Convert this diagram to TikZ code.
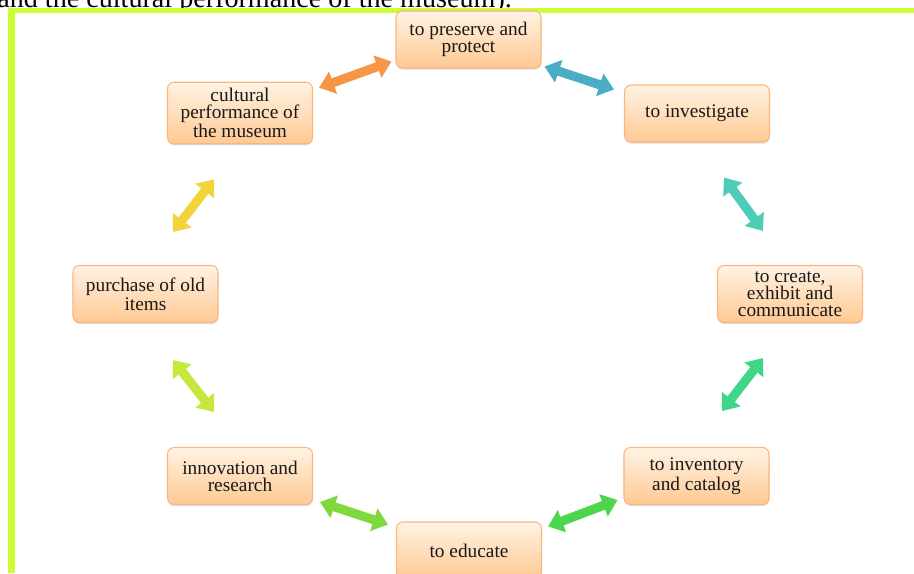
\documentclass[tikz,border=0pt]{standalone}
\usepackage{fontspec}
\setmainfont{Liberation Serif}
\usetikzlibrary{arrows.meta, shadows}

\definecolor{frame}{HTML}{CCFF33}
\definecolor{boxline}{HTML}{FBB57E}
\definecolor{boxtop}{HTML}{FFF3E3}
\definecolor{boxbot}{HTML}{FFC993}
\definecolor{cOrange}{HTML}{F79646}
\definecolor{cBlue}{HTML}{4BACC6}
\definecolor{cTeal}{HTML}{4CCDB8}
\definecolor{cEmerald}{HTML}{40D68A}
\definecolor{cGreen}{HTML}{4DD64D}
\definecolor{cLime}{HTML}{7ED93F}
\definecolor{cYellowGreen}{HTML}{C4E83C}
\definecolor{cYellow}{HTML}{F2D43A}

\tikzset{
  box/.style={draw=boxline, line width=0.6pt, rounded corners=1.3mm,
    top color=boxtop, bottom color=boxbot,
    minimum width=29mm, minimum height=11.4mm, align=center,
    font=\fontsize{11}{9.6}\selectfont, text=black!90,
    drop shadow={shadow xshift=0.2pt, shadow yshift=-0.9pt, opacity=0.25}},
  link/.style={line width=5.2pt,
    {Triangle[length=8.5pt, width=13pt]}-{Triangle[length=8.5pt, width=13pt]}},
}

\begin{document}
\begin{tikzpicture}[x=0.2mm, y=-0.2mm]
    \useasboundingbox (0,0) rectangle (914,573);
    \clip (0,0) rectangle (914,573);

    \node[anchor=base west, inner sep=0, font=\fontsize{16}{16}\selectfont]
      (note) at (-3,7) {and the cultural performance of the museum).};
    \fill[frame] (8,8) rectangle (914,13);
    \fill[frame] (8,8) rectangle (15,573);

    \node[box] (pres)  at (468.5,39.5) {to preserve and\\protect};
    \node[box] (inv)   at (697,113.5)  {to investigate};
    \node[box] (crea)  at (790,294)    {to create,\\exhibit and\\communicate};
    \node[box] (catl)  at (696.5,476)  {to inventory\\and catalog};
    \node[box] (edu)   at (469,550.5)  {to educate};
    \node[box] (innov) at (240,476)    {innovation and\\research};
    \node[box] (purch) at (145.5,294)  {purchase of old\\items};
    \node[box] (cult)  at (240,113)    {cultural\\performance of\\the museum};

    \draw[link, cOrange] ([shift={(6,6)}]cult.north east)
      -- ([shift={(-4,-7)}]pres.south west);
    \draw[link, cBlue] ([shift={(3,-2)}]pres.south east)
      -- ([shift={(-10,5)}]inv.north west);
    \draw[link, cTeal] ([shift={(27,35)}]inv.south)
      -- ([shift={(-27,-34)}]crea.north);
    \draw[link, cEmerald] ([shift={(-27,35)}]crea.south)
      -- ([shift={(25.5,-36)}]catl.north);
    \draw[link, cGreen] ([shift={(-6,-5)}]catl.south west)
      -- ([shift={(6,5)}]edu.north east);
    \draw[link, cLime] ([shift={(-8,3)}]edu.north west)
      -- ([shift={(7,-3)}]innov.south east);
    \draw[link, cYellowGreen] ([shift={(-26,-35)}]innov.north)
      -- ([shift={(27.5,37)}]purch.south);
    \draw[link, cYellow] ([shift={(27.5,-33)}]purch.north)
      -- ([shift={(-26,35)}]cult.south);
  \end{tikzpicture}
\end{document}
